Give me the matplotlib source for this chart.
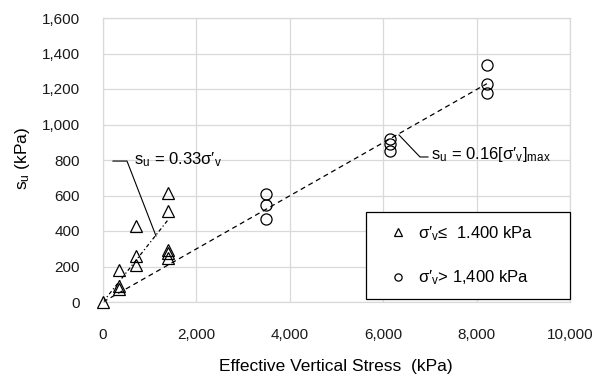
import matplotlib
matplotlib.use("Agg")
import matplotlib.pyplot as plt
from matplotlib.ticker import FuncFormatter

plt.rcParams['font.family'] = ['Liberation Sans', 'DejaVu Sans']
plt.rcParams['mathtext.default'] = 'regular'

# Data: sigma'_v <= 1400 kPa (triangles)
tri_x = [0, 340, 340, 340, 700, 700, 700, 1390, 1390, 1390, 1390, 1390]
tri_y = [0, 75, 90, 180, 210, 260, 430, 250, 275, 295, 515, 615]
# Data: sigma'_v > 1400 kPa (circles)
cir_x = [3500, 3500, 3500, 6150, 6150, 6150, 8220, 8220, 8220]
cir_y = [470, 545, 610, 850, 890, 920, 1180, 1230, 1335]

# Trend lines
line1_x = [0, 1390]
line1_y = [0, 462]
line2_x = [0, 8220]
line2_y = [0, 1230]

# Annotation leader lines
lead1_x = [214, 514, 1135]
lead1_y = [794, 794, 372]
lead2_x = [6338, 6788, 6959]
lead2_y = [941, 817, 817]
text1_pos = (660, 775)
text2_pos = (7030, 803)

xticks = [0, 2000, 4000, 6000, 8000, 10000]
yticks = [0, 200, 400, 600, 800, 1000, 1200, 1400, 1600]

fig = plt.figure(figsize=(6.01, 3.76), dpi=100)
ax = fig.add_axes([103/601, 1-302/376, 467/601, 284/376])

ax.set_xlim(0, 10000)
ax.set_ylim(0, 1600)
ax.set_xticks(xticks)
ax.set_yticks(yticks)
fmt = FuncFormatter(lambda v, p: f"{int(v):,}")
ax.xaxis.set_major_formatter(fmt)
ax.yaxis.set_major_formatter(fmt)
ax.grid(True, color='#d9d9d9', lw=0.9)
ax.set_axisbelow(True)
for s in ax.spines.values():
    s.set_color('#d9d9d9')
    s.set_linewidth(0.9)
ax.tick_params(length=0, labelsize=11, colors='#1a1a1a')
ax.tick_params(axis='x', pad=18.5)
ax.tick_params(axis='y', pad=16.5)

ax.plot(line1_x, line1_y, color='black', lw=0.9, dashes=(3, 2, 1, 2), zorder=2)
ax.plot(line2_x, line2_y, color='black', lw=0.9, dashes=(4, 3), zorder=2)

ax.plot(tri_x, tri_y, ls='none', marker='^', ms=8, mfc='none', mec='black', mew=0.9,
        label='σ′$_{\\mathregular{v}}$≤  1.400 kPa', zorder=3, clip_on=False)
ax.plot(cir_x, cir_y, ls='none', marker='o', ms=8, mfc='none', mec='black', mew=0.9,
        label='σ′$_{\\mathregular{v}}$> 1,400 kPa', zorder=3, clip_on=False)

ax.plot(lead1_x, lead1_y, color='black', lw=0.8, zorder=2)
ax.plot(lead2_x, lead2_y, color='black', lw=0.8, zorder=2)
ax.text(*text1_pos, 's$_{u}$ = 0.33σ′$_{v}$', fontsize=12, va='baseline', ha='left')
ax.text(*text2_pos, 's$_{u}$ = 0.16[σ′$_{v}$]$_{max}$', fontsize=12, va='baseline', ha='left')

leg = ax.legend(loc='lower left', bbox_to_anchor=(0.563, 0.0106, 0.437, 0.3), mode='expand',
                borderaxespad=0, fancybox=False, edgecolor='black', framealpha=1,
                fontsize=12, markerscale=0.65, handlelength=2.4, handletextpad=0.0,
                borderpad=0.7, labelspacing=1.55)
leg.get_frame().set_linewidth(0.9)
leg.set_zorder(5)

fig.text(336/601, 1-366/376, 'Effective Vertical Stress  (kPa)', ha='center', va='center', fontsize=12.5)
fig.text(22/601, 1-158/376, 's$_{u}$ (kPa)', ha='center', va='center', rotation=90, fontsize=12.5)

fig.savefig('out.png', dpi=100)
